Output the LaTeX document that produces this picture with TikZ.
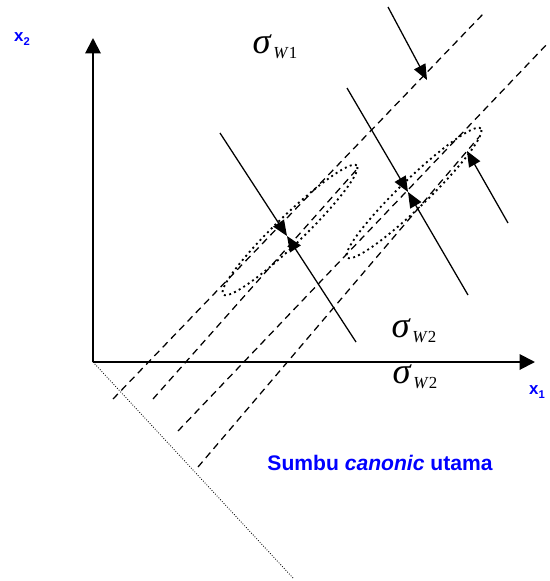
\documentclass[tikz,border=0pt]{standalone}
\usepackage{fontspec}
\setmainfont{Liberation Sans}
\newfontfamily\tmsfont{Liberation Serif}
\usetikzlibrary{arrows.meta}
\definecolor{lblblue}{HTML}{0000FF}
\newcommand{\sigmaw}[1]{{\tmsfont\itshape σ}\hspace{2pt}\raisebox{-3.5pt}{\tmsfont\fontsize{12}{12}\selectfont\itshape W\hspace{1pt}\upshape #1}}

\begin{document}
\begin{tikzpicture}[
    x=0.025cm, y=-0.025cm,
    axisline/.style={line width=1.4pt, -{Triangle[length=11pt, width=11pt]}},
    projline/.style={line width=0.9pt, dash pattern=on 5pt off 3.5pt},
    canon/.style={line width=0.6pt, dash pattern=on 0.6pt off 1.2pt},
    spread/.style={line width=0.9pt, -{Triangle[length=11pt, width=9pt]}},
    cluster/.style={line width=1.3pt, dash pattern=on 1.4pt off 2.4pt},
    lbl/.style={inner sep=0pt, text=lblblue, font=\fontsize{12}{14}\selectfont\bfseries},
    sig/.style={inner sep=0pt, font=\fontsize{26}{28}\selectfont}
]
    \useasboundingbox (0,0) rectangle (550,581);

    % Points
    \coordinate (O) at (93,362);
    \coordinate (x2end) at (93,38);
    \coordinate (x1end) at (535,362);
    \coordinate (canonend) at (293,578);
    \coordinate (a0) at (113,399); \coordinate (a1) at (484,13);
    \coordinate (b0) at (153,399); \coordinate (b1) at (358,168);
    \coordinate (c0) at (178,431); \coordinate (c1) at (549,42);
    \coordinate (d0) at (198,467); \coordinate (d1) at (479,137);
    \coordinate (g1) at (290,230);
    \coordinate (g2) at (414,193);
    \coordinate (s1top) at (220,133); \coordinate (s1bot) at (356,342); \coordinate (m1) at (287,236);
    \coordinate (s2top) at (347,88); \coordinate (s2bot) at (468,295); \coordinate (m2) at (408,192);
    \coordinate (t0) at (388,7); \coordinate (t1) at (427,80);
    \coordinate (r0) at (508,223); \coordinate (r1) at (467,151);

    % Axes
    \draw[axisline] (O) -- (x2end);
    \draw[axisline] (O) -- (x1end);
    \draw[canon] (O) -- (canonend);

    % Projections
    \draw[projline] (a0) -- (a1);
    \draw[projline] (b0) -- (b1);
    \draw[projline] (c0) -- (c1);
    \draw[projline] (d0) -- (d1);

    % Groups
    \draw[cluster, rotate around={44:(g1)}] (g1) ellipse [x radius=66pt, y radius=10pt];
    \draw[cluster, rotate around={44:(g2)}] (g2) ellipse [x radius=66pt, y radius=10pt];

    % Arrows
    \draw[spread] (s1top) -- (m1);
    \draw[spread] (s1bot) -- (m1);
    \draw[spread] (s2top) -- (m2);
    \draw[spread] (s2bot) -- (m2);
    \draw[spread] (t0) -- (t1);
    \draw[spread] (r0) -- (r1);

    % Labels
    \node[lbl] (lx2) at (22,39) {x\raisebox{-0.4ex}{\fontsize{8}{8}\selectfont 2}};
    \node[lbl] (lx1) at (537,392) {x\raisebox{-0.4ex}{\fontsize{8}{8}\selectfont 1}};
    \node[sig] (sw1) at (275,47) {\sigmaw{1}};
    \node[sig] (sw2a) at (414,331) {\sigmaw{2}};
    \node[sig] (sw2b) at (415,377) {\sigmaw{2}};
    \node[lbl, font=\fontsize{15}{18}\selectfont\bfseries] (canonlbl) at (380,463) {Sumbu \textit{canonic} utama};
\end{tikzpicture}
\end{document}
